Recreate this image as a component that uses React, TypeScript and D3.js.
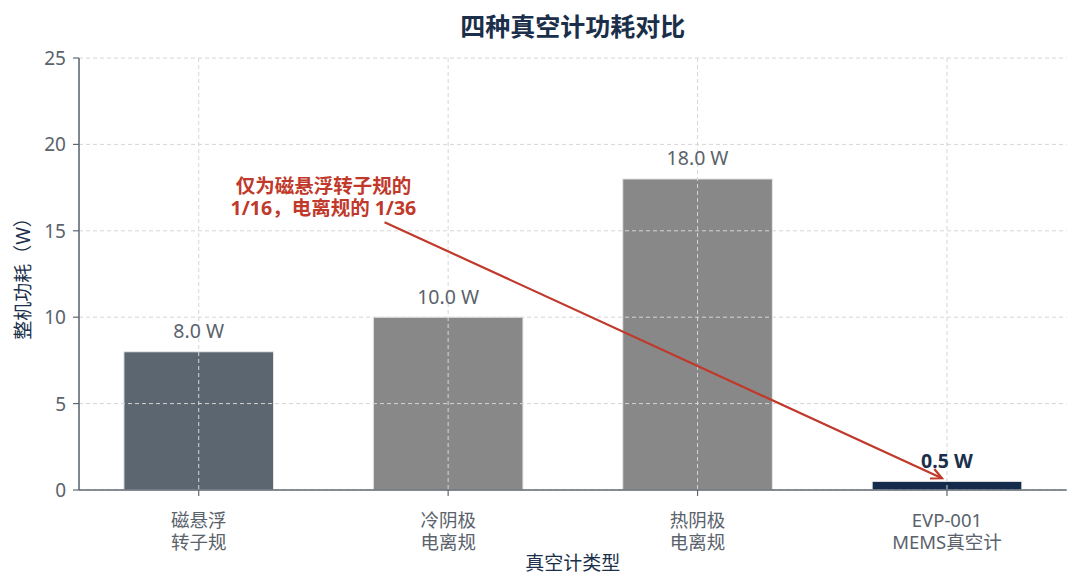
import React from "react";
import * as d3 from "d3";

const categories: string[][] = [
  ["磁悬浮", "转子规"],
  ["冷阴极", "电离规"],
  ["热阴极", "电离规"],
  ["EVP-001", "MEMS真空计"],
];
const values: number[] = [8.0, 10.0, 18.0, 0.5];
const valueLabels: string[] = ["8.0 W", "10.0 W", "18.0 W", "0.5 W"];
const barColors: string[] = ["#5c6670", "#888888", "#888888", "#142b4c"];
const yTicks: number[] = [0, 5, 10, 15, 20, 25];
const annotationLines: string[] = ["仅为磁悬浮转子规的", "1/16，电离规的 1/36"];
const annotationText: [number, number] = [0.5, 17.0];
const arrowFrom: [number, number] = [0.745, 15.5];
const arrowTo: [number, number] = [2.98, 0.68];

const W = 1080;
const H = 588;
const FONT = "'Noto Sans', 'Noto Sans CJK SC', sans-serif";
const NAVY = "#1b2f4a";
const GRAY_TXT = "#5a626b";
const RED = "#c0392b";

export default function App() {
  const left = 79;
  const right = 1066.7;
  const top = 58;
  const bottom = 490;
  const barW = 0.6;
  const n = categories.length;
  const pad = (n - 1 + barW) * 0.05;
  const x = d3
    .scaleLinear()
    .domain([-barW / 2 - pad, n - 1 + barW / 2 + pad])
    .range([left, right]);
  const y = d3.scaleLinear().domain([0, 25]).range([bottom, top]);

  const ax = x(arrowFrom[0]);
  const ay = y(arrowFrom[1]);
  const bx = x(arrowTo[0]);
  const by = y(arrowTo[1]);
  const ang = Math.atan2(by - ay, bx - ax);
  const hl = 12;
  const hw = 0.45;
  const h1x = bx - hl * Math.cos(ang - hw);
  const h1y = by - hl * Math.sin(ang - hw);
  const h2x = bx - hl * Math.cos(ang + hw);
  const h2y = by - hl * Math.sin(ang + hw);

  return (
    <svg
      width={W}
      height={H}
      style={{ position: "absolute", left: 0, top: 0, background: "#fff" }}
      fontFamily={FONT}
    >
      <rect x={0} y={0} width={W} height={H} fill="#fff" />
      {/* bars */}
      {values.map((v, i) => (
        <rect
          key={"b" + i}
          x={x(i - barW / 2)}
          y={y(v)}
          width={x(i + barW / 2) - x(i - barW / 2)}
          height={y(0) - y(v)}
          fill={barColors[i]}
          stroke="#e8e8e8"
          strokeWidth={1}
        />
      ))}
      {/* grid */}
      {yTicks.map((t) => (
        <line
          key={"gy" + t}
          x1={left}
          x2={right}
          y1={y(t)}
          y2={y(t)}
          stroke="#d6d6d6"
          strokeWidth={1}
          strokeDasharray="4,3"
        />
      ))}
      {categories.map((_, i) => (
        <line
          key={"gx" + i}
          x1={x(i)}
          x2={x(i)}
          y1={top}
          y2={bottom}
          stroke="#d6d6d6"
          strokeWidth={1}
          strokeDasharray="4,3"
        />
      ))}
      {/* spines */}
      <line x1={left} x2={left} y1={top} y2={bottom} stroke="#5f6973" strokeWidth={1.6} />
      <line x1={left} x2={right} y1={bottom} y2={bottom} stroke="#5f6973" strokeWidth={1.6} />
      {/* y ticks */}
      {yTicks.map((t) => (
        <g key={"yt" + t}>
          <line x1={left - 6} x2={left} y1={y(t)} y2={y(t)} stroke="#5f6973" strokeWidth={1.2} />
          <text
            x={left - 13}
            y={y(t)}
            textAnchor="end"
            dominantBaseline="central"
            fontSize={19}
            fill={GRAY_TXT}
          >
            {t}
          </text>
        </g>
      ))}
      {/* x ticks */}
      {categories.map((lines, i) => (
        <g key={"xt" + i}>
          <line x1={x(i)} x2={x(i)} y1={bottom} y2={bottom + 6} stroke="#5f6973" strokeWidth={1.2} />
          {lines.map((l, j) => (
            <text
              key={j}
              x={x(i)}
              y={519 + j * 22}
              textAnchor="middle"
              dominantBaseline="central"
              fontSize={18.5}
              fill={GRAY_TXT}
            >
              {l}
            </text>
          ))}
        </g>
      ))}
      {/* value labels */}
      {values.map((v, i) => (
        <text
          key={"v" + i}
          x={x(i)}
          y={y(v) - 21}
          textAnchor="middle"
          dominantBaseline="central"
          fontSize={19.5}
          fontWeight={i === 3 ? 700 : 400}
          fill={i === 3 ? NAVY : GRAY_TXT}
        >
          {valueLabels[i]}
        </text>
      ))}
      {/* axis labels */}
      <text
        x={(left + right) / 2}
        y={563}
        textAnchor="middle"
        dominantBaseline="central"
        fontSize={19}
        fill={NAVY}
      >
        真空计类型
      </text>
      <text
        transform={`translate(23, ${(top + bottom) / 2}) rotate(-90)`}
        textAnchor="middle"
        dominantBaseline="central"
        fontSize={19}
        fill={NAVY}
      >
        整机功耗（W）
      </text>
      {/* title */}
      <text
        x={(left + right) / 2}
        y={26}
        textAnchor="middle"
        dominantBaseline="central"
        fontSize={25}
        fontWeight={700}
        fill={NAVY}
      >
        四种真空计功耗对比
      </text>
      {/* annotation */}
      {annotationLines.map((l, j) => (
        <text
          key={"a" + j}
          x={x(annotationText[0])}
          y={y(annotationText[1]) - 11 + j * 22}
          textAnchor="middle"
          dominantBaseline="central"
          fontSize={19.5}
          fontWeight={700}
          fill={RED}
        >
          {l}
        </text>
      ))}
      <line x1={ax} y1={ay} x2={bx} y2={by} stroke={RED} strokeWidth={2.2} />
      <polyline
        points={`${h1x},${h1y} ${bx},${by} ${h2x},${h2y}`}
        fill="none"
        stroke={RED}
        strokeWidth={2.2}
      />
    </svg>
  );
}
